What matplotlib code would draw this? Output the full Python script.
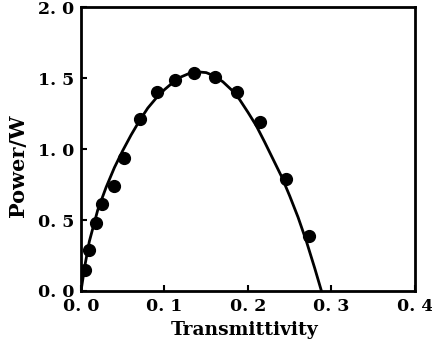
import numpy as np
import matplotlib
matplotlib.use("Agg")
from matplotlib import pyplot as plt

# measured points
trans = [0.005, 0.009, 0.018, 0.025, 0.040, 0.052, 0.071, 0.091, 0.113,
         0.135, 0.160, 0.187, 0.214, 0.245, 0.273]
power = [0.15, 0.29, 0.48, 0.61, 0.74, 0.94, 1.21, 1.40, 1.49,
         1.54, 1.51, 1.40, 1.19, 0.79, 0.39]

# fitted curve
curve_t = [0.0, 0.005, 0.01, 0.02, 0.03, 0.04, 0.05, 0.06, 0.07, 0.08, 0.09,
           0.10, 0.11, 0.12, 0.13, 0.14, 0.15, 0.16, 0.17, 0.18, 0.19, 0.20,
           0.21, 0.22, 0.23, 0.24, 0.25, 0.26, 0.27, 0.28, 0.288]
curve_p = [0.0, 0.19, 0.35, 0.57, 0.73, 0.87, 0.99, 1.10, 1.20, 1.29, 1.36,
           1.42, 1.47, 1.51, 1.535, 1.545, 1.54, 1.515, 1.475, 1.42, 1.35, 1.26,
           1.165, 1.05, 0.93, 0.81, 0.67, 0.52, 0.35, 0.16, 0.0]

xticks = [0.0, 0.1, 0.2, 0.3, 0.4]
yticks = [0.0, 0.5, 1.0, 1.5, 2.0]

plt.rcParams['font.family'] = ['DejaVu Serif']
plt.rcParams['font.weight'] = 'bold'

fig = plt.figure(figsize=(4.32, 3.51), dpi=100)
ax = fig.add_axes([0.1875, 0.171, 0.773, 0.808])

ax.plot(curve_t, curve_p, color='black', lw=2.0, solid_capstyle='round')
ax.plot(trans, power, 'o', color='black', ms=8.5)

ax.set_xlim(0, 0.4)
ax.set_ylim(0, 2.0)
ax.set_xticks(xticks)
ax.set_yticks(yticks)
ax.set_xticklabels([f"{v:.1f}".replace('.', '. ') for v in xticks])
ax.set_yticklabels([f"{v:.1f}".replace('.', '. ') for v in yticks])
ax.tick_params(direction='in', length=4, width=1.5, labelsize=12.5)
ax.tick_params(axis='x', pad=5)
ax.tick_params(axis='y', pad=5)
for s in ax.spines.values():
    s.set_linewidth(2.0)

ax.set_xlabel('Transmittivity', fontsize=13.5, fontweight='bold')
ax.set_ylabel('Power/W', fontsize=15, fontweight='bold')
ax.xaxis.set_label_coords(0.49, -0.105)
ax.yaxis.set_label_coords(-0.16, 0.44)

fig.savefig('out.png', dpi=100)
